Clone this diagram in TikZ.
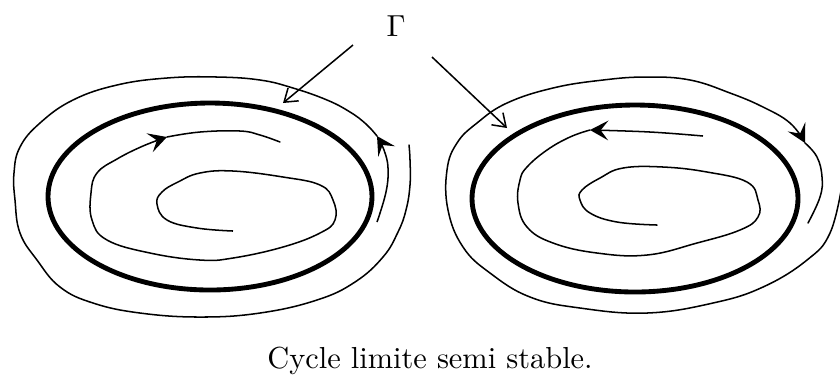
\documentclass[tikz,border=0pt]{standalone}
\usepackage{tikz}
\usetikzlibrary{arrows.meta}
\tikzset{
  orbit/.style={line width=0.5pt, line cap=round},
  limitcycle/.style={line width=1.6pt},
  flowtip/.style={-{Stealth[length=6pt,width=6.5pt,inset=2.5pt]}, line width=0.5pt},
  pointer/.style={-{Straight Barb[length=4pt,width=5.5pt]}, line width=0.5pt},
  spiral/.style={smooth, tension=0.7}
}

\begin{document}
\begin{tikzpicture}[x=0.329pt, y=-0.329pt]
  \useasboundingbox (0,0) rectangle (840,378);
  % left picture
  \draw[limitcycle] (210,196.5) ellipse [x radius=162, y radius=93.5];
  \draw[flowtip] plot[spiral] coordinates {(233,231) (197,228) (167,220) (157,204) (162,192) (178,182) (200,173) (233,171) (283,177) (320,185) (333,200) (335,220) (320,233) (283,247) (233,258) (200,260) (150,253) (107,240) (92,220) (91,193) (97,173) (117,159) (143,146) (167,137)};
  \draw[orbit] plot[spiral] coordinates {(167,137) (200,132) (240,131) (260,135) (280,142)};
  \draw[flowtip] plot[spiral] coordinates {(377,222) (386,192) (388,168) (384,150) (377,136)};
  \draw[orbit] plot[spiral] coordinates {(377,136) (366,124) (350,112) (327,100) (293,88) (260,80) (217,77) (167,78) (117,85) (73,100) (40,123) (20,147) (14,173) (15,200) (20,233) (37,260) (60,287) (93,303) (140,313) (200,317) (260,313) (317,300) (355,282) (383,257) (398,232) (406,210) (410,185) (410,160) (409,145)};
  % right picture
  \draw[limitcycle] (635,198.5) ellipse [x radius=163, y radius=93.5];
  \draw[flowtip] plot[spiral] coordinates {(703,136) (650,132) (590,130)};
  \draw[orbit] plot[spiral] coordinates {(590,130) (570,137) (547,150) (527,167) (520,180) (518,203) (527,227) (553,243) (597,253) (647,255) (697,243) (740,230) (758,217) (758,200) (747,182) (707,172) (663,167) (623,168) (600,178) (582,190) (580,200) (590,213) (617,222) (657,225)};
  \draw[flowtip] plot[spiral] coordinates {(842,185) (830,233) (807,260) (763,287) (713,303) (647,313) (580,308) (530,297) (490,273) (463,247) (448,210) (447,170) (457,143) (477,123) (507,103) (553,88) (603,80) (647,77) (690,80) (730,93) (763,107) (790,123) (805,143)};
  \draw[orbit] plot[spiral] coordinates {(805,143) (817,157) (822,177) (820,197) (808,223)};
  % the cycle label
  \node[anchor=base] (gamma) at (396,36) {$\Gamma$};
  \coordinate (gammaL) at (353,45);
  \coordinate (cycleL) at (283,103);
  \coordinate (gammaR) at (432,57);
  \coordinate (cycleR) at (507,128);
  \draw[pointer] (gammaL) -- (cycleL);
  \draw[pointer] (gammaR) -- (cycleR);
  \node[anchor=base] (caption) at (430,368) {Cycle limite semi stable.};
\end{tikzpicture}
\end{document}
